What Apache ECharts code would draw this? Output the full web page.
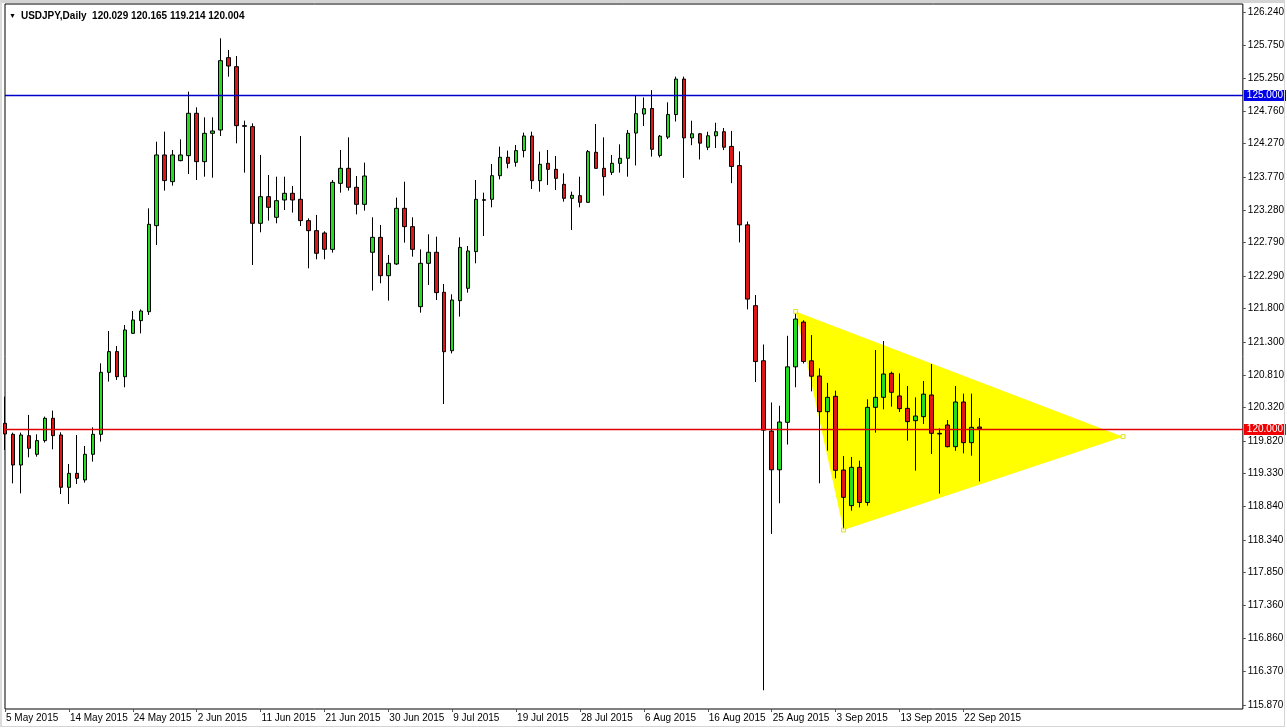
<!DOCTYPE html>
<html>
<head>
<meta charset="utf-8">
<script src="https://cdn.jsdelivr.net/npm/echarts@6/dist/echarts.min.js"></script>
<style>
  html, body { margin: 0; padding: 0; background: #fff; }
  #chart { position: absolute; left: 0; top: 0; width: 1287px; height: 728px; }
  #frame { position: absolute; left: 0; top: 0; width: 1285px; height: 727px; box-sizing: border-box;
           border-top: 3px solid #d4d4d4; border-left: 2px solid #dcdcdc; border-right: 1px solid #d4d4d4;
           border-bottom: 1px solid #d4d4d4; pointer-events: none; }
</style>
</head>
<body>
<div id="chart"></div>
<div id="frame"></div>
<script>
// ---- data (USDJPY daily) ----
const symbolName = 'USDJPY,Daily';
const firstDate = [2015, 5, 5];   // year, month, day of first bar (bars Sun..Fri)
const futureBars = 33;            // empty slots to the right of the last bar

const open = [
120.085,119.920,119.461,119.900,119.621,119.826,120.160,119.910,119.127,119.336,
119.237,119.621,119.920,120.848,121.158,120.783,121.432,121.622,121.756,123.044,
124.102,123.703,124.017,124.092,124.726,124.002,124.426,124.476,125.559,125.424,
124.541,124.526,123.079,123.478,123.169,123.428,123.528,123.438,123.119,122.969,
122.934,122.689,123.677,123.902,123.618,123.363,122.645,122.869,122.295,122.470,
123.303,123.029,121.831,122.480,122.645,122.046,121.172,121.921,122.106,122.655,
123.433,123.438,123.792,124.067,123.992,124.167,124.386,123.717,123.977,123.887,
123.662,123.453,123.493,123.393,124.142,123.902,123.842,123.977,124.052,124.430,
124.715,124.798,124.095,124.370,124.707,125.238,124.358,124.419,124.218,124.389,
124.450,124.230,123.943,123.056,121.846,121.021,119.969,119.389,120.100,120.930,
121.600,121.020,120.793,120.259,120.489,119.386,118.852,119.426,118.900,120.324,
120.474,120.833,120.494,120.309,120.124,120.184,120.509,119.935,120.060,119.735,
120.404,119.795,120.029];
const high = [
120.484,119.945,119.945,120.210,119.920,120.185,120.275,119.950,119.476,119.910,
119.746,120.025,120.983,121.467,121.242,121.557,121.766,121.791,123.303,124.301,
124.451,124.177,124.336,125.050,124.815,124.666,124.666,125.848,125.674,125.584,
124.616,124.576,124.102,123.802,123.777,123.777,123.638,124.386,123.154,123.204,
122.960,123.727,124.177,124.366,123.787,123.987,123.169,123.054,122.605,123.463,
123.702,123.169,122.689,122.914,122.879,122.171,122.016,122.869,122.739,123.727,
123.538,123.967,124.226,124.167,124.251,124.436,124.451,124.152,124.177,124.087,
123.827,123.553,123.777,124.177,124.566,124.366,124.102,124.261,124.476,124.994,
124.963,125.073,124.401,124.890,125.275,125.275,124.615,124.432,124.450,124.584,
124.505,124.462,124.156,123.105,122.005,121.265,120.397,120.348,121.395,121.725,
121.627,121.406,120.908,120.690,120.574,119.595,119.581,119.526,120.444,121.182,
121.317,120.858,120.833,120.643,120.474,120.718,120.973,120.010,120.134,120.643,
120.529,120.529,120.165];
const low = [
119.686,119.186,119.037,119.576,119.586,119.796,119.696,119.027,118.877,119.177,
119.197,119.511,119.811,120.709,120.734,120.624,121.422,121.432,121.707,122.754,
123.568,123.643,124.007,123.817,123.727,123.777,123.762,124.386,125.274,124.276,
123.837,122.455,122.944,123.119,123.079,123.278,123.239,123.039,122.405,122.540,
122.540,122.640,123.538,123.568,123.213,123.268,122.071,122.181,121.921,122.455,
122.789,122.580,121.741,122.156,121.931,120.374,121.132,121.682,122.041,122.480,
122.889,123.318,123.737,123.902,123.927,124.067,123.593,123.553,123.653,123.578,
123.403,122.979,123.318,123.383,123.892,123.493,123.802,123.837,123.777,123.945,
124.535,124.077,124.065,124.340,124.603,123.759,124.248,124.034,124.175,124.205,
124.175,123.680,122.793,121.791,120.703,116.088,118.429,118.888,119.767,120.624,
120.980,120.563,119.187,119.675,119.261,118.488,118.777,118.825,118.852,119.945,
120.294,120.334,120.254,119.825,119.376,120.075,119.625,119.032,119.725,119.673,
119.635,119.600,119.214];
const close = [
119.925,119.461,119.910,119.711,119.826,120.160,119.900,119.127,119.336,119.261,
119.621,119.920,120.848,121.158,120.783,121.482,121.632,121.766,123.064,124.102,
123.718,124.102,124.102,124.726,124.002,124.426,124.461,125.514,125.434,124.541,
124.531,123.079,123.478,123.318,123.418,123.528,123.428,123.119,122.969,122.630,
122.690,123.692,123.902,123.618,123.363,123.787,122.869,122.295,122.480,123.303,
123.029,122.689,122.480,122.645,122.041,121.157,121.931,122.719,122.665,123.438,
123.423,123.792,124.067,123.977,124.167,124.386,123.717,123.962,123.887,123.752,
123.453,123.498,123.393,124.152,123.902,123.777,123.977,124.052,124.426,124.720,
124.795,124.187,124.383,124.707,125.238,124.358,124.419,124.279,124.389,124.450,
124.218,123.930,123.056,121.944,121.009,119.982,119.389,120.104,120.930,121.646,
121.010,120.790,120.259,120.474,119.381,118.977,119.426,118.900,120.324,120.474,
120.823,120.549,120.304,120.110,120.194,120.522,119.935,119.925,119.735,120.404,
119.795,120.025,120.004];

// horizontal level lines drawn on the chart: [price, lineColor, badgeColor]
const levels = [[125.000, '#0000cc', '#0000e8'], [120.000, '#e00000', '#f00000']];
// triangle object: [barIndex, price] x 3
const triangle = [[99, 121.760], [140, 119.885], [105, 118.488]];

// price scale labels
const yTicks = [126.240,125.750,125.250,124.760,124.270,123.770,123.280,122.790,122.290,121.800,
                121.300,120.810,120.320,119.820,119.330,118.840,118.340,117.850,117.360,116.860,
                116.370,115.870];
const yMin = 115.808, yMax = 126.362;
const dateLabelEvery = 8;

// ---- build categories (daily bars, Saturdays have no bar) ----
const MONTHS = ['Jan','Feb','Mar','Apr','May','Jun','Jul','Aug','Sep','Oct','Nov','Dec'];
const categories = [];
{
  let t = Date.UTC(firstDate[0], firstDate[1] - 1, firstDate[2]);
  while (categories.length < open.length) {
    const d = new Date(t);
    if (d.getUTCDay() !== 6) categories.push(d.getUTCDate() + ' ' + MONTHS[d.getUTCMonth()] + ' ' + d.getUTCFullYear());
    t += 86400000;
  }
  for (let k = 0; k < futureBars; k++) categories.push('');
}
const lastBar = open.length - 1;
const candles = open.map((o, i) => [o, close[i], low[i], high[i]]);
const showDate = (idx) => idx % dateLabelEvery === 0 && idx <= lastBar;

const FONT = 'Liberation Sans, Arial, sans-serif';
const title = symbolName + '  ' + [open[lastBar], high[lastBar], low[lastBar], close[lastBar]].map(v => v.toFixed(3)).join(' ');

const chart = echarts.init(document.getElementById('chart'), null, { renderer: 'canvas' });
chart.setOption({
  animation: false,
  backgroundColor: '#fff',
  title: {
    text: '{a|▼} {b|' + title + '}',
    left: 9, top: 7, padding: 0,
    textStyle: {
      rich: {
        a: { fontSize: 7, color: '#000', fontFamily: FONT },
        b: { fontSize: 10, color: '#000', fontFamily: FONT }
      }
    }
  },
  grid: { left: 5, right: 44, top: 4, bottom: 19, show: true, borderColor: '#000', borderWidth: 1, backgroundColor: '#fff' },
  xAxis: {
    type: 'category', data: categories, boundaryGap: false,
    axisLine: { show: false },
    axisTick: { show: true, interval: (i) => showDate(i), length: 3, lineStyle: { color: '#555' } },
    axisLabel: { interval: (i) => showDate(i), align: 'left', margin: 4, padding: [0, 0, 0, 1],
                 fontSize: 10, color: '#000', fontFamily: FONT },
    splitLine: { show: false }
  },
  yAxis: {
    type: 'value', position: 'right', min: yMin, max: yMax, scale: true,
    axisLine: { show: false },
    splitLine: { show: false },
    axisTick: { show: true, customValues: yTicks, length: 3, lineStyle: { color: '#555' } },
    axisLabel: { customValues: yTicks, formatter: (v) => v.toFixed(3), margin: 5,
                 fontSize: 10, color: '#000', fontFamily: FONT }
  },
  series: [
    {
      type: 'custom', z: 1, silent: true,
      encode: { x: 0, y: 1 },
      data: [triangle.flat()],
      renderItem: (params, api) => {
        const pts = [0, 1, 2].map(k => api.coord([api.value(2 * k), api.value(2 * k + 1)]));
        return { type: 'polygon', shape: { points: pts }, style: { fill: '#ffff00' } };
      }
    },
    {
      type: 'candlestick', z: 3, data: candles, barWidth: 4,
      itemStyle: { color: '#22dd22', color0: '#e01515', borderColor: '#000', borderColor0: '#000',
                   borderColorDoji: '#000', borderWidth: 1 }
    },
    {
      type: 'scatter', z: 4, silent: true, symbol: 'rect', symbolSize: 4,
      data: triangle,
      itemStyle: { color: '#ffffd0', borderColor: '#d8d800', borderWidth: 1 }
    },
    {
      type: 'custom', z: 6, silent: true, clip: false,
      encode: { y: 0 },
      data: levels.map(l => [l[0]]),
      renderItem: (params, api) => {
        const cs = params.coordSys;
        const lv = levels[params.dataIndex];
        const y = Math.round(api.coord([0, api.value(0)])[1]) + 0.5;
        return {
          type: 'group',
          children: [
            { type: 'line', shape: { x1: cs.x, y1: y, x2: cs.x + cs.width, y2: y },
              style: { stroke: lv[1], lineWidth: 1.5 } },
            { type: 'text', x: cs.x + cs.width + 1, y: y,
              style: { text: api.value(0).toFixed(3), fill: '#fff', backgroundColor: lv[2],
                       padding: [1, 3, 0, 3], verticalAlign: 'middle', align: 'left',
                       font: '10px ' + FONT } }
          ]
        };
      }
    }
  ]
});
</script>
</body>
</html>
